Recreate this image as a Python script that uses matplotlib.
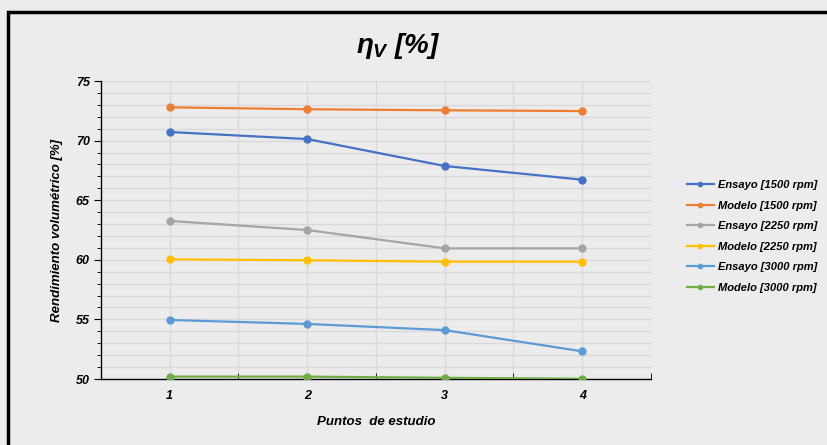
import matplotlib
matplotlib.use("Agg")
import matplotlib.pyplot as plt
from matplotlib.patches import Rectangle
from matplotlib.ticker import MultipleLocator, FixedLocator

plt.rcParams['font.family'] = ['Liberation Sans', 'DejaVu Sans']
plt.rcParams['mathtext.fontset'] = 'custom'
plt.rcParams['mathtext.it'] = 'Liberation Sans:bold:italic'
plt.rcParams['mathtext.rm'] = 'Liberation Sans:bold:italic'
plt.rcParams['mathtext.bf'] = 'Liberation Sans:bold:italic'

puntos = [1, 2, 3, 4]
series_names = ["Ensayo [1500 rpm]", "Modelo [1500 rpm]", "Ensayo [2250 rpm]",
                "Modelo [2250 rpm]", "Ensayo [3000 rpm]", "Modelo [3000 rpm]"]
ensayo_1500 = [70.72, 70.13, 67.87, 66.72]
modelo_1500 = [72.79, 72.63, 72.54, 72.48]
ensayo_2250 = [63.26, 62.50, 60.96, 60.96]
modelo_2250 = [60.04, 59.96, 59.84, 59.84]
ensayo_3000 = [54.95, 54.62, 54.10, 52.32]
modelo_3000 = [50.20, 50.20, 50.10, 50.02]
colors = ["#4472C4", "#ED7D31", "#A5A5A5", "#FFC000", "#5B9BD5", "#70AD47"]
all_series = [ensayo_1500, modelo_1500, ensayo_2250, modelo_2250, ensayo_3000, modelo_3000]

bg = "#ECECEC"
fig = plt.figure(figsize=(8.28, 4.45), dpi=100, facecolor=bg)
ax = fig.add_axes([101/828, 1-379/445, 550/828, 298/445])
ax.set_facecolor(bg)

for name, vals, c in zip(series_names, all_series, colors):
    ax.plot(puntos, vals, color=c, lw=1.6, marker='o', markersize=5, label=name, zorder=3)

ax.set_xlim(0.5, 4.5)
ax.set_ylim(50, 75)
ax.xaxis.set_major_locator(FixedLocator(puntos))
ax.xaxis.set_minor_locator(FixedLocator([1.5, 2.5, 3.5, 4.5]))
ax.yaxis.set_major_locator(MultipleLocator(5))
ax.yaxis.set_minor_locator(MultipleLocator(1))

ax.grid(True, which='both', axis='both', color='#D9D9D9', lw=1, zorder=0)

for s in ['top', 'right']:
    ax.spines[s].set_visible(False)
for s in ['left', 'bottom']:
    ax.spines[s].set_color('black')
    ax.spines[s].set_linewidth(1.0)

ax.tick_params(axis='x', which='major', length=0, pad=8, labelsize=9)
ax.tick_params(axis='x', which='minor', direction='in', length=4, color='black')
ax.tick_params(axis='y', which='major', direction='out', length=5, labelsize=9, pad=3)
ax.tick_params(axis='y', which='minor', direction='out', length=3)
for lab in ax.get_xticklabels() + ax.get_yticklabels():
    lab.set_fontweight('bold')
    lab.set_fontstyle('italic')

ax.set_xlabel("Puntos  de estudio", fontsize=9.5, fontweight='bold', fontstyle='italic', labelpad=10)
ax.set_ylabel("Rendimiento volumétrico [%]", fontsize=9.5, fontweight='bold', fontstyle='italic', labelpad=9)

fig.text(398/828, 1-46/445, r"$\eta_{V}$ [%]", fontsize=20, fontweight='bold', fontstyle='italic',
         ha='center', va='center')

leg = fig.legend(loc='upper left', bbox_to_anchor=(677/828, 1-170/445), frameon=False,
                 prop={'size': 8, 'weight': 'bold', 'style': 'italic'},
                 handlelength=2.4, labelspacing=0.95, markerscale=0.6, handletextpad=0.4)

fig.patches.append(Rectangle((8/828, -0.05), 1.1, 1.05 - 12/445, transform=fig.transFigure,
                             fill=False, edgecolor='black', lw=2.5, zorder=10))

fig.savefig("out.png", dpi=100, facecolor=bg)
